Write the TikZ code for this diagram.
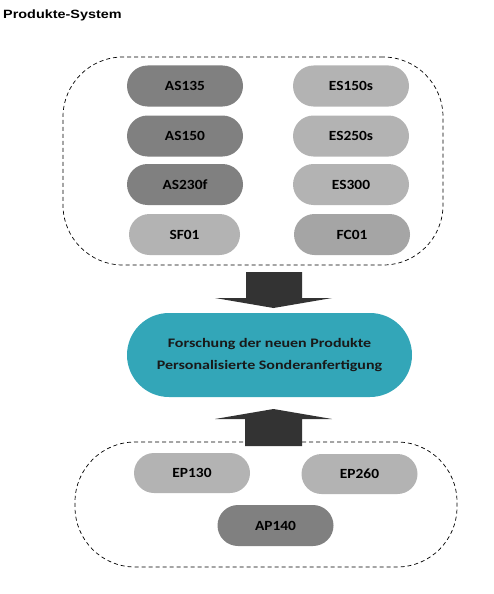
\documentclass[tikz,border=0pt]{standalone}
\usepackage{fontspec}
\setmainfont{Carlito}
\newfontfamily\titlefont{Liberation Sans}
\definecolor{darkpill}{HTML}{808080}
\definecolor{lightpill}{HTML}{B3B3B3}
\definecolor{tealpill}{HTML}{33A6B8}
\definecolor{arrowgray}{HTML}{333333}
\newcommand{\wide}[2]{\scalebox{#1}[1]{#2}}
\begin{document}
\begin{tikzpicture}[x=1pt,y=-1pt,
  pill/.style={rectangle, rounded corners=20.5pt, minimum width=116pt, minimum height=41pt,
    inner sep=0pt, font=\bfseries\fontsize{14}{16}\selectfont, text=black},
  darkp/.style={pill, fill=darkpill},
  lightp/.style={pill, fill=lightpill},
  container/.style={rectangle, draw=black, dashed, dash pattern=on 4pt off 3pt, line width=0.7pt, inner sep=0pt},
  blockarrow/.style={fill=arrowgray, draw=none}]
\useasboundingbox (0,0) rectangle (493,594);
\node[anchor=base west, inner sep=0pt, font=\titlefont\bfseries\fontsize{12}{14}\selectfont] (title) at (3,19) {\wide{1.2}{Produkte-System}};
% containers
\node[container, rounded corners=60pt, minimum width=380pt, minimum height=208pt] (top) at (253,161) {};
\node[container, rounded corners=60pt, minimum width=382pt, minimum height=125pt] (bottom) at (266,504.5) {};
% top pills
\node[darkp] (as135) at (185,86) {\wide{1.1}{AS135}};
\node[darkp] (as150) at (185,136) {\wide{1.1}{AS150}};
\node[darkp] (as230f) at (185,184.5) {\wide{1.1}{AS230f}};
\node[lightp, minimum width=111pt] (sf01) at (184.5,234.5) {\wide{1.1}{SF01}};
\node[lightp] (es150s) at (351,86) {\wide{1.1}{ES150s}};
\node[lightp] (es250s) at (351,136) {\wide{1.1}{ES250s}};
\node[lightp] (es300) at (351,184.5) {\wide{1.1}{ES300}};
\node[lightp, fill=lightpill!92!black] (fc01) at (352,234.5) {\wide{1.1}{FC01}};
% arrows
\fill[blockarrow] (246,272) -- (302,272) -- (302,298) -- (332,298) -- (273.5,308) -- (215,298) -- (246,298) -- cycle;
\fill[blockarrow] (245,446) -- (302,446) -- (302,419) -- (332,419) -- (273.5,409) -- (215,419) -- (245,419) -- cycle;
% center
\node[rectangle, rounded corners=42pt, minimum width=285pt, minimum height=84pt, fill=tealpill,
  font=\bfseries\fontsize{13}{22}\selectfont, text=black!90, align=center] (center) at (269.5,355)
  {\wide{1.23}{Forschung der neuen Produkte}\\\wide{1.23}{Personalisierte Sonderanfertigung}};
% bottom pills
\node[lightp, minimum height=40pt, rounded corners=20pt] (ep130) at (192,473) {\wide{1.1}{EP130}};
\node[lightp, minimum height=40pt, rounded corners=20pt] (ep260) at (359.5,474) {\wide{1.1}{EP260}};
\node[darkp] (ap140) at (275.5,525.5) {\wide{1.1}{AP140}};
\end{tikzpicture}
\end{document}
